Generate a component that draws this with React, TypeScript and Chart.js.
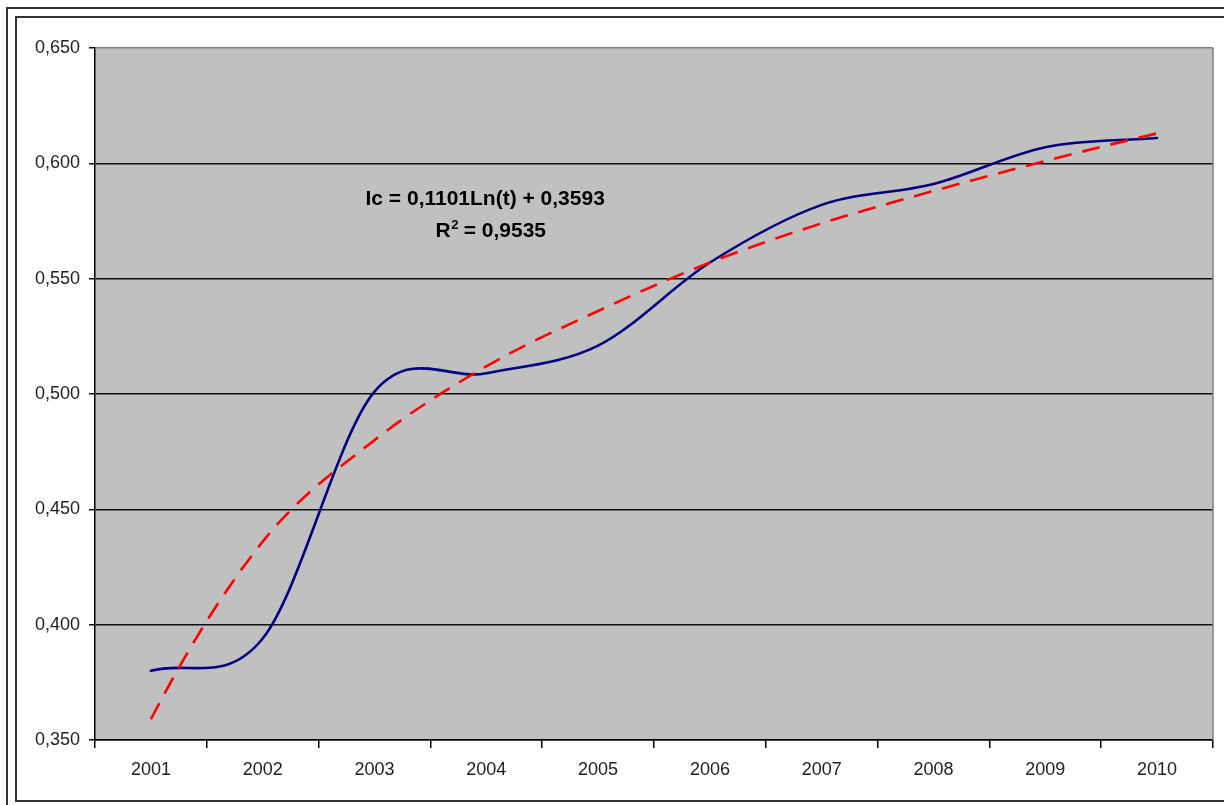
import React, { useEffect, useRef } from 'react';
import { Chart, registerables } from 'chart.js';

Chart.register(...registerables);

// ---- data ----
const years = ['2001', '2002', '2003', '2004', '2005', '2006', '2007', '2008', '2009', '2010'];
const icValues = [0.380, 0.394, 0.501, 0.509, 0.521, 0.557, 0.582, 0.591, 0.607, 0.611];
const trendValues = [0.359, 0.436, 0.480, 0.512, 0.536, 0.557, 0.574, 0.588, 0.601, 0.613];
const yMin = 0.35;
const yMax = 0.65;
const yStep = 0.05;
const equationLine = 'Ic = 0,1101Ln(t) + 0,3593';
const r2Label = 'R';
const r2Exp = '2';
const r2Rest = ' = 0,9535';

const FONT = "'Liberation Sans', Arial, Helvetica, sans-serif";

// Excel-like smoothed line: uniform Catmull-Rom control points
const splinePlugin = {
  id: 'excelSpline',
  beforeDatasetDraw(chart: any, args: any) {
    const meta = args.meta;
    const line = meta.dataset;
    if (!line || meta.type !== 'line') return;
    line.updateControlPoints(chart.chartArea, meta.iScale.axis);
    const pts = meta.data;
    const n = pts.length;
    if (n < 3) return;
    const ds = chart.data.datasets[args.index];
    const tx: number[] = new Array(n);
    const ty: number[] = new Array(n);
    for (let i = 1; i < n - 1; i++) {
      tx[i] = (pts[i + 1].x - pts[i - 1].x) / 2;
      ty[i] = (pts[i + 1].y - pts[i - 1].y) / 2;
    }
    const sx0 = pts[1].x - pts[0].x;
    const sy0 = pts[1].y - pts[0].y;
    const sxn = pts[n - 1].x - pts[n - 2].x;
    const syn = pts[n - 1].y - pts[n - 2].y;
    if (ds.endMode === 'quadratic') {
      tx[0] = 2 * sx0 - tx[1];
      ty[0] = 2 * sy0 - ty[1];
      tx[n - 1] = 2 * sxn - tx[n - 2];
      ty[n - 1] = 2 * syn - ty[n - 2];
    } else {
      tx[0] = sx0;
      ty[0] = sy0;
      tx[n - 1] = sxn;
      ty[n - 1] = syn;
    }
    for (let i = 0; i < n; i++) {
      const p = pts[i];
      p.cp1x = p.x - tx[i] / 3;
      p.cp1y = p.y - ty[i] / 3;
      p.cp2x = p.x + tx[i] / 3;
      p.cp2y = p.y + ty[i] / 3;
    }
    line._path = undefined;
  },
};

const plotAreaPlugin = {
  id: 'plotArea',
  beforeDraw(chart: any) {
    const { ctx, chartArea: a } = chart;
    ctx.save();
    ctx.fillStyle = '#C0C0C0';
    ctx.fillRect(a.left, a.top, a.right - a.left, a.bottom - a.top);
    ctx.restore();
  },
  afterDraw(chart: any) {
    const { ctx, chartArea: a } = chart;
    ctx.save();
    ctx.strokeStyle = '#808080';
    ctx.lineWidth = 1.5;
    ctx.beginPath();
    ctx.moveTo(a.right, a.top);
    ctx.lineTo(a.right, a.bottom);
    ctx.stroke();
    ctx.restore();
  },
};

const equationPlugin = {
  id: 'equation',
  afterDraw(chart: any) {
    const { ctx, chartArea: a } = chart;
    const ys = chart.scales.y;
    const w = a.right - a.left;
    ctx.save();
    ctx.fillStyle = '#000';
    ctx.textBaseline = 'alphabetic';
    ctx.font = `bold 21px ${FONT}`;
    ctx.textAlign = 'center';
    const cx1 = a.left + 0.349 * w;
    ctx.fillText(equationLine, cx1, ys.getPixelForValue(0.5819));

    const cx2 = a.left + 0.354 * w;
    const base2 = ys.getPixelForValue(0.5681);
    ctx.textAlign = 'left';
    ctx.font = `bold 21px ${FONT}`;
    const wR = ctx.measureText(r2Label).width;
    const wRest = ctx.measureText(r2Rest).width;
    ctx.font = `bold 13px ${FONT}`;
    const w2 = ctx.measureText(r2Exp).width;
    let x = cx2 - (wR + w2 + wRest) / 2;
    ctx.font = `bold 21px ${FONT}`;
    ctx.fillText(r2Label, x, base2);
    x += wR;
    ctx.font = `bold 13px ${FONT}`;
    ctx.fillText(r2Exp, x + 0.5, base2 - 8);
    x += w2;
    ctx.font = `bold 21px ${FONT}`;
    ctx.fillText(r2Rest, x, base2);
    ctx.restore();
  },
};

export default function App() {
  const canvasRef = useRef<HTMLCanvasElement | null>(null);

  useEffect(() => {
    if (!canvasRef.current) return;
    const chart = new Chart(canvasRef.current, {
      type: 'line',
      data: {
        labels: years,
        datasets: [
          {
            label: 'Ic',
            data: icValues,
            borderColor: '#000080',
            borderWidth: 2.6,
            borderJoinStyle: 'round',
            borderCapStyle: 'round',
            pointRadius: 0,
            tension: 0.4,
            fill: false,
            order: 1,
          } as any,
          {
            label: 'Trend',
            data: trendValues,
            borderColor: '#FF0000',
            borderWidth: 2.6,
            borderDash: [18, 11],
            pointRadius: 0,
            tension: 0.4,
            fill: false,
            order: 0,
            endMode: 'quadratic',
          } as any,
        ],
      },
      options: {
        animation: false,
        responsive: true,
        maintainAspectRatio: false,
        events: [],
        layout: { padding: { top: 29, right: 9, bottom: 0, left: 0 } },
        plugins: {
          legend: { display: false },
          tooltip: { enabled: false },
          title: { display: false },
        },
        scales: {
          x: {
            type: 'category',
            offset: true,
            grid: {
              offset: true,
              drawOnChartArea: false,
              drawTicks: true,
              tickLength: 8,
              color: '#000',
              lineWidth: 1.5,
            },
            border: { display: true, color: '#000', width: 1.5 },
            ticks: {
              color: '#222',
              font: { family: FONT, size: 18 },
              padding: 11,
              maxRotation: 0,
              autoSkip: false,
            },
            afterFit: (s: any) => {
              s.height = 60;
            },
          },
          y: {
            min: yMin,
            max: yMax,
            ticks: {
              stepSize: yStep,
              color: '#222',
              font: { family: FONT, size: 18 },
              padding: 9,
              callback: (v: any) => Number(v).toFixed(3).replace('.', ','),
            },
            grid: {
              color: (c: any) =>
                c.tick && Math.abs(c.tick.value - yMax) < 1e-6 ? '#808080' : '#111',
              tickColor: '#111',
              lineWidth: 1.5,
              tickLength: 6,
            },
            border: { display: true, color: '#000', width: 1.5 },
            afterFit: (s: any) => {
              s.width = 77;
            },
          },
        },
      } as any,
      plugins: [plotAreaPlugin, splinePlugin, equationPlugin],
    });
    return () => chart.destroy();
  }, []);

  return (
    <div
      style={{
        position: 'absolute',
        left: 0,
        top: 0,
        width: 1224,
        height: 805,
        overflow: 'hidden',
        background: '#fff',
      }}
    >
      <div
        style={{
          position: 'absolute',
          left: 6,
          top: 7,
          width: 1240,
          height: 820,
          border: '2px solid #333',
        }}
      />
      <div
        style={{
          position: 'absolute',
          left: 15,
          top: 16,
          width: 1240,
          height: 782,
          border: '2px solid #333',
        }}
      />
      <div style={{ position: 'absolute', left: 18, top: 19, width: 1204, height: 781 }}>
        <canvas ref={canvasRef} />
      </div>
    </div>
  );
}
